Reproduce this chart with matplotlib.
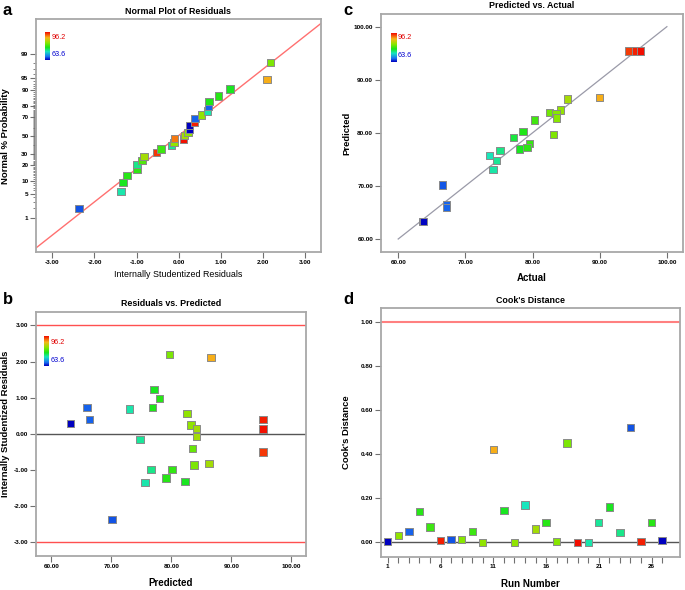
import statistics

import matplotlib
matplotlib.use("Agg")
import matplotlib.pyplot as plt
import numpy as np
from matplotlib.colors import LinearSegmentedColormap

plt.rcParams["font.family"] = ["Liberation Sans Narrow", "Liberation Sans", "DejaVu Sans"]

RESP_MIN, RESP_MAX = 63.6, 96.2

# ── panel a: normal plot of residuals ───────────────────────────────────────
norm_resid = [-2.37, -1.37, -1.32, -1.23, -0.99, -0.99, -0.87, -0.82, -0.52, -0.42,
              -0.17, -0.107, -0.10, 0.124, 0.14, 0.22, 0.257, 0.257, 0.376, 0.39,
              0.55, 0.68, 0.71, 0.725, 0.955, 1.22, 2.10, 2.19]
norm_prob = [1.9, 5.6, 9.3, 13.0, 16.7, 20.4, 24.1, 27.8, 31.5, 35.2,
             38.9, 42.6, 47.0, 46.3, 50.0, 53.7, 57.4, 61.1, 64.8, 68.5,
             72.2, 75.9, 79.6, 83.3, 87.0, 90.7, 94.4, 98.1]
norm_resp = [66.5, 74, 78, 79, 79.5, 75, 81, 85, 94.5, 80,
             74.5, 84, 92, 96, 85, 84, 63.6, 63.6, 95.5, 67,
             84, 74, 67, 78.5, 79, 78, 90, 83]
prob_major = [1, 5, 10, 20, 30, 50, 70, 80, 90, 95, 99]
ref_slope, ref_intercept = 0.94, 0.0

# ── panel c: predicted vs actual ────────────────────────────────────────────
pva_actual = [94.35, 95.4, 96.1, 89.97, 85.16, 82.53, 84.12, 83.5, 83.6, 80.25,
              78.6, 83.1, 77.17, 79.55, 79.16, 78.06, 75.14, 73.55, 74.64, 74.1,
              66.55, 67.15, 67.15, 63.62, 63.8]
pva_pred = [95.4, 95.4, 95.4, 86.66, 86.4, 83.83, 84.28, 83.6, 82.77, 82.4,
            80.25, 79.7, 79.1, 78.05, 77.23, 76.98, 76.66, 75.72, 74.85, 73.08,
            70.19, 66.47, 65.98, 63.34, 63.34]

# ── panel b: residuals vs predicted ─────────────────────────────────────────
rvp_pred = [63.17, 65.95, 66.4, 73.0, 77.1, 78.07, 76.9, 79.67, 86.6, 82.6,
            83.3, 84.2, 95.3, 95.3, 84.2, 74.8, 83.5, 95.3, 83.8, 86.3,
            76.6, 80.1, 79.1, 82.3, 75.6, 70.1]
rvp_resid = [0.28, 0.73, 0.40, 0.69, 1.23, 0.97, 0.73, 2.19, 2.11, 0.56,
             0.24, 0.14, 0.39, 0.13, -0.08, -0.15, -0.40, -0.50, -0.86, -0.82,
             -0.98, -0.98, -1.22, -1.31, -1.35, -2.37]
rvp_resp = [63.6, 67, 67, 74, 78, 79, 78.5, 83, 90, 84,
            84, 85, 95.5, 96, 85, 74.5, 82, 94.5, 83, 85,
            75, 79.5, 79, 78, 74, 66.5]

# ── panel d: cook's distance ────────────────────────────────────────────────
run_no = list(range(1, 28))
cooks_d = [0.005, 0.03, 0.05, 0.14, 0.07, 0.01, 0.012, 0.013, 0.05, 0.0,
           0.42, 0.145, 0.0, 0.17, 0.06, 0.09, 0.005, 0.45, 0.0, 0.0,
           0.09, 0.16, 0.045, 0.52, 0.005, 0.09, 0.008]
cooks_resp = [63.6, 84, 67, 79, 80, 95.5, 66.5, 83.5, 80, 84,
              90, 78, 84, 73.5, 85, 79, 83.5, 83, 96.2, 74,
              74.5, 78, 75, 66.5, 95.5, 79, 63.6]
run_labels = ["1", "6", "11", "16", "21", "26"]

cmap = LinearSegmentedColormap.from_list("de", [
    (0.00, (0.00, 0.00, 0.75)),
    (0.12, (0.10, 0.45, 0.95)),
    (0.30, (0.10, 0.90, 0.75)),
    (0.45, (0.10, 0.90, 0.10)),
    (0.62, (0.55, 0.90, 0.00)),
    (0.80, (0.97, 0.72, 0.10)),
    (1.00, (0.95, 0.05, 0.00)),
])

FRAME = "#a8a8a8"
TICK_FS = 4.6
TITLE_KW = dict(fontsize=6.4, fontweight="bold", pad=4)
YLAB_KW = dict(fontsize=6.8, fontweight="bold", family=["Liberation Sans", "DejaVu Sans"])


def style(ax):
    for s in ax.spines.values():
        s.set_color(FRAME)
        s.set_linewidth(1.3)
    ax.tick_params(direction="out", length=4, width=0.8, color="#707070",
                   labelsize=TICK_FS, pad=1.5)
    ax.tick_params(axis="both", which="minor", length=2.5, width=0.6, color="#707070")
    for lab in ax.get_xticklabels() + ax.get_yticklabels():
        lab.set_fontweight("bold")


def pts(ax, x, y, c):
    ax.scatter(x, y, c=c, cmap=cmap, vmin=RESP_MIN, vmax=RESP_MAX, marker="s",
               s=28, edgecolors="#8a8a8a", linewidths=0.7, zorder=4)


def add_key(ax, x0, y0, y1, ylab_hi, ylab_lo):
    # colour key drawn straight into the panel (axes-fraction coords)
    grad = np.linspace(1, 0, 100).reshape(-1, 1)
    ax.imshow(grad, cmap=cmap, aspect="auto", transform=ax.transAxes,
              extent=[x0, x0 + 0.017, y0, y1], zorder=5)
    ax.text(x0 + 0.022, ylab_hi, f"{RESP_MAX}", transform=ax.transAxes,
            fontsize=5.2, color="#e00000", va="center")
    ax.text(x0 + 0.022, ylab_lo, f"{RESP_MIN}", transform=ax.transAxes,
            fontsize=5.2, color="#0000d0", va="center")


def fmt2(v):
    return [f"{t:.2f}" for t in v]


fig = plt.figure(figsize=(6.85, 5.9), dpi=100)

# ── a ───────────────────────────────────────────────────────────────────────
ax = fig.add_axes([0.0526, 0.5724, 0.4156, 0.3949])
nd = statistics.NormalDist()
z = [nd.inv_cdf(p / 100) for p in norm_prob]
ax.axline((0, ref_intercept), slope=ref_slope, color="#ff7070", lw=1.0, zorder=2)
pts(ax, norm_resid, z, norm_resp)
ax.set_xlim(-3.39, 3.38)
ax.set_ylim(-3.31, 3.30)
xt = [-3, -2, -1, 0, 1, 2, 3]
ax.set_xticks(xt, fmt2(xt))
ax.set_yticks([nd.inv_cdf(p / 100) for p in prob_major], [str(p) for p in prob_major])
ax.set_yticks([nd.inv_cdf(p / 100) for p in range(2, 99) if p not in prob_major], minor=True)
style(ax)
ax.set_xlabel("Internally Studentized Residuals", fontsize=6.4)
ax.xaxis.set_label_coords(0.5, -0.075)
ax.set_ylabel("Normal % Probability", **YLAB_KW)
ax.yaxis.set_label_coords(-0.09, 0.5)
ax.set_title("Normal Plot of Residuals", **TITLE_KW)
add_key(ax, 0.032, 0.825, 0.945, 0.924, 0.847)

# ── c ───────────────────────────────────────────────────────────────────────
ax = fig.add_axes([0.5558, 0.5724, 0.4413, 0.404])
ax.plot([60, 100], [60, 100], color="#9a9aa8", lw=0.9, zorder=2)
pts(ax, pva_actual, pva_pred, pva_actual)
ax.set_xlim(57.4, 102.4)
ax.set_ylim(57.5, 102.4)
t = [60, 70, 80, 90, 100]
ax.set_xticks(t, fmt2(t))
ax.set_yticks(t, fmt2(t))
style(ax)
ax.set_xlabel("Actual", fontsize=7, fontweight="bold")
ax.xaxis.set_label_coords(0.5, -0.085)
ax.set_ylabel("Predicted", **YLAB_KW)
ax.yaxis.set_label_coords(-0.096, 0.5)
ax.set_title("Predicted vs. Actual", **TITLE_KW)
add_key(ax, 0.034, 0.80, 0.92, 0.90, 0.824)

# ── b ───────────────────────────────────────────────────────────────────────
ax = fig.add_axes([0.0526, 0.0576, 0.394, 0.4136])
ax.axhline(3, color="#ff5050", lw=1.0, zorder=2)
ax.axhline(-3, color="#ff5050", lw=1.0, zorder=2)
ax.axhline(0, color="#555555", lw=1.0, zorder=2)
pts(ax, rvp_pred, rvp_resid, rvp_resp)
ax.set_xlim(57.45, 102.45)
ax.set_ylim(-3.38, 3.37)
ax.set_xticks(t, fmt2(t))
yt = [-3, -2, -1, 0, 1, 2, 3]
ax.set_yticks(yt, fmt2(yt))
style(ax)
ax.set_xlabel("Predicted", fontsize=7, fontweight="bold")
ax.xaxis.set_label_coords(0.5, -0.092)
ax.set_ylabel("Internally Studentized Residuals", **YLAB_KW)
ax.yaxis.set_label_coords(-0.095, 0.54)
ax.set_title("Residuals vs. Predicted", **TITLE_KW)
add_key(ax, 0.031, 0.779, 0.898, 0.877, 0.803)

# ── d ───────────────────────────────────────────────────────────────────────
ax = fig.add_axes([0.5558, 0.0564, 0.437, 0.421])
ax.axhline(1.0, color="#ff8080", lw=1.5, zorder=2)
ax.axhline(0.0, color="#555555", lw=1.0, zorder=2)
pts(ax, run_no, cooks_d, cooks_resp)
ax.set_xlim(0.33, 28.7)
ax.set_ylim(-0.065, 1.061)
ax.set_xticks(run_no, [str(r) if str(r) in run_labels else "" for r in run_no])
ct = [0.0, 0.2, 0.4, 0.6, 0.8, 1.0]
ax.set_yticks(ct, fmt2(ct))
style(ax)
ax.set_xlabel("Run Number", fontsize=7, fontweight="bold")
ax.xaxis.set_label_coords(0.5, -0.088)
ax.set_ylabel("Cook's Distance", **YLAB_KW)
ax.yaxis.set_label_coords(-0.1, 0.5)
ax.set_title("Cook's Distance", **TITLE_KW)

for lab, (x, y) in zip("abcd", [(0.004, 0.982), (0.004, 0.493), (0.501, 0.982), (0.501, 0.493)]):
    fig.text(x, y, lab, fontsize=12, fontweight="bold", family="Liberation Sans", va="center")

fig.savefig("out.png", dpi=100)
